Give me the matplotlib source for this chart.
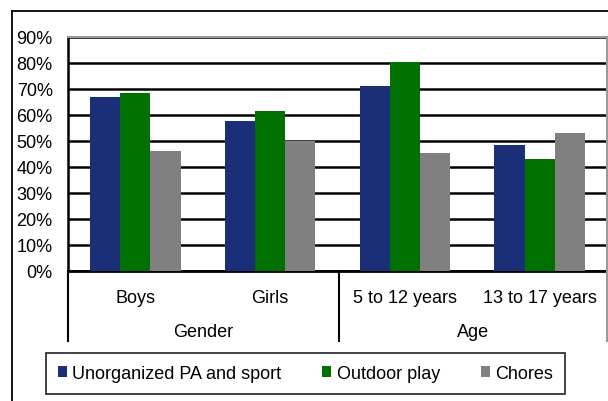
import matplotlib.pyplot as plt
from matplotlib.patches import Patch
from matplotlib.lines import Line2D
import numpy as np

plt.rcParams['font.family'] = ['Liberation Sans', 'DejaVu Sans']

categories = ['Boys', 'Girls', '5 to 12 years', '13 to 17 years']
groups = ['Gender', 'Age']
series_names = ['Unorganized PA and sport', 'Outdoor play', 'Chores']
unorganized = [67, 57.7, 71.2, 48.5]
outdoor = [68.5, 61.5, 80.3, 43]
chores = [46.2, 50, 45.4, 53]
colors = ['#1b2f78', '#007000', '#808080']

W, H = 608, 402
fs = 13
fig = plt.figure(figsize=(W / 100, H / 100), dpi=100)
ax = fig.add_axes([68 / W, 1 - 272 / H, (607 - 68) / W, (272 - 38) / H])

x = np.arange(len(categories))
bw = 0.224
for i, vals in enumerate([unorganized, outdoor, chores]):
    ax.bar(x + (i - 1) * bw, vals, bw, color=colors[i], zorder=3)

ax.set_xlim(-0.5, 3.5)
ax.set_ylim(0, 90)
ax.set_yticks(range(0, 91, 10))
ax.set_yticklabels([f'{v}%' for v in range(0, 91, 10)], fontsize=fs)
ax.tick_params(axis='y', length=0, pad=11)
ax.set_xticks([])
ax.yaxis.grid(True, color='black', linewidth=1.8, zorder=0)
for s in ['top', 'right']:
    ax.spines[s].set_color('#9a9a9a')
    ax.spines[s].set_linewidth(1.5)
ax.spines['left'].set_linewidth(1.8)
ax.spines['bottom'].set_linewidth(2)

# category labels and group labels below the axis
for i, c in enumerate(categories):
    fig.text((68 + (607 - 68) / 4 * (i + 0.5)) / W, 1 - 299 / H, c,
             ha='center', va='center', fontsize=fs)
fig.text(((68 + 339) / 2) / W, 1 - 333 / H, groups[0], ha='center', va='center', fontsize=fs)
fig.text(((339 + 607) / 2) / W, 1 - 333 / H, groups[1], ha='center', va='center', fontsize=fs)
for xp, col in [(68, 'black'), (339, 'black'), (607, '#9a9a9a')]:
    fig.add_artist(Line2D([xp / W, xp / W], [1 - 272 / H, 1 - 342 / H], color=col, linewidth=1.5))

# outer chart border
fig.add_artist(Line2D([12 / W, 12 / W], [0, 1 - 12 / H], color='black', linewidth=1.3))
fig.add_artist(Line2D([12 / W, 1], [1 - 12 / H, 1 - 12 / H], color='black', linewidth=1.3))

handles = [Patch(facecolor=c, edgecolor='none') for c in colors]
leg = fig.legend(handles, series_names, loc='center', ncol=3, mode='expand',
                 bbox_to_anchor=(46 / W, 1 - 397 / H, 519 / W, 45 / H),
                 borderaxespad=0, fontsize=fs,
                 frameon=True, fancybox=False, edgecolor='black',
                 handlelength=0.5, handleheight=0.5, handletextpad=0.3,
                 columnspacing=1.5, borderpad=0.65)
leg.get_frame().set_linewidth(1.3)

fig.savefig('out.png', dpi=100)
